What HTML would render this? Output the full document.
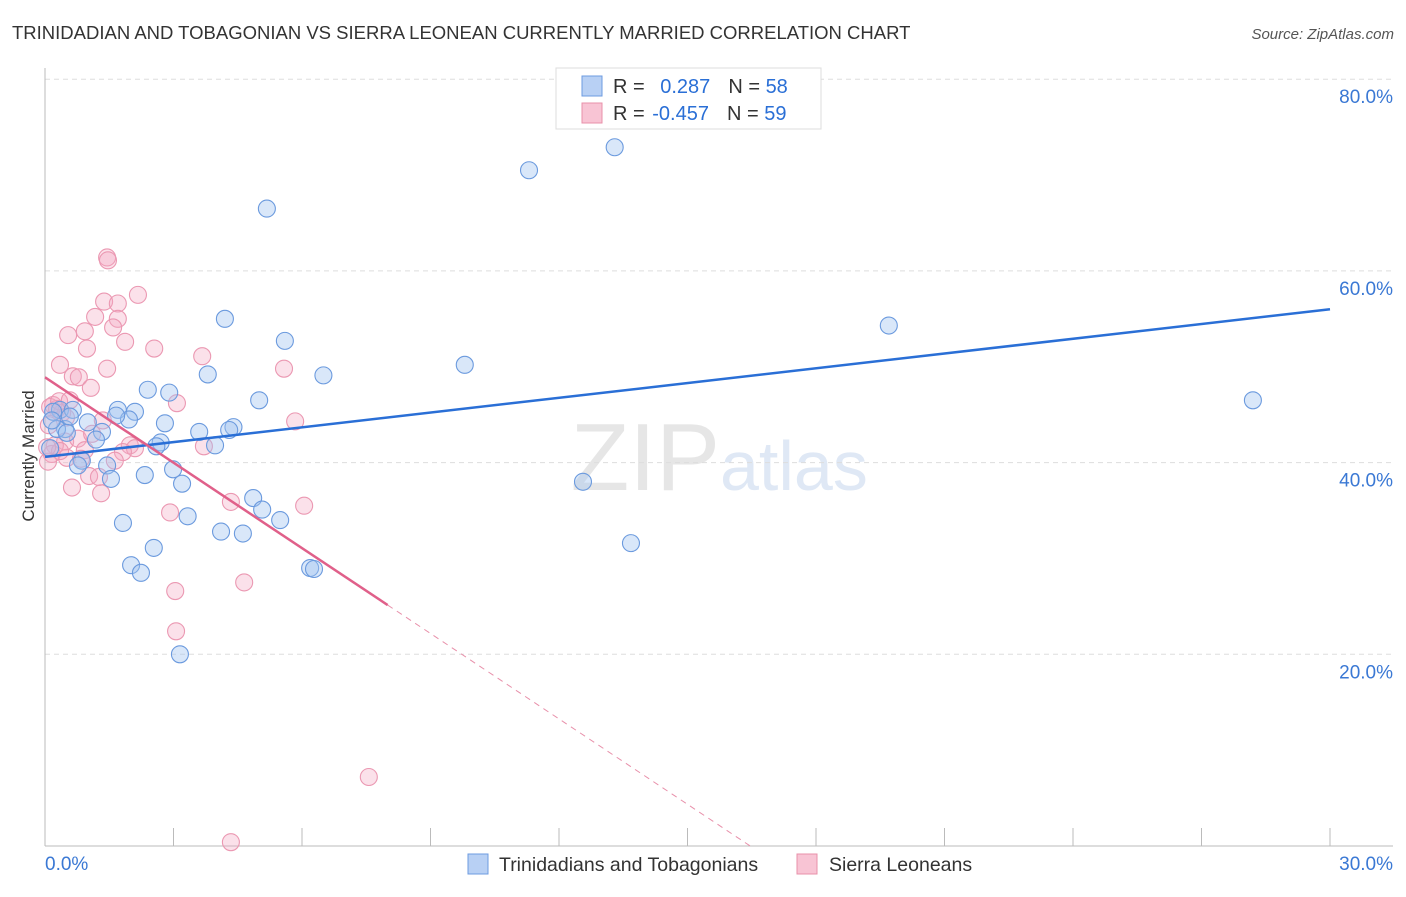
<!DOCTYPE html>
<html><head><meta charset="utf-8"><style>
body{margin:0;background:#fff;font-family:"Liberation Sans",sans-serif}
svg text{font-family:"Liberation Sans",sans-serif}
</style></head><body>
<svg width="1406" height="892" id="c">
<text x="12" y="39" font-size="18.5" fill="#333">TRINIDADIAN AND TOBAGONIAN VS SIERRA LEONEAN CURRENTLY MARRIED CORRELATION CHART</text>
<text x="1394" y="39" font-size="15" fill="#555" text-anchor="end" font-style="italic">Source: ZipAtlas.com</text>
<text x="34" y="456" font-size="17" fill="#333" text-anchor="middle" transform="rotate(-90 34 456)">Currently Married</text>
<text x="720" y="490" font-size="96" fill="#e6e6e6" text-anchor="end" font-family="Liberation Serif">ZIP</text>
<text x="720" y="490" font-size="70" fill="#dfe8f5">atlas</text>
<g id="grid"></g><g id="axes"></g><g id="pts"></g><g id="lines"></g>
<g>
<rect x="556" y="68" width="265" height="61" fill="#fff" stroke="#ddd"/>
<rect x="582" y="76" width="20" height="20" fill="#b8d0f4" stroke="#6d9be0"/>
<rect x="582" y="103" width="20" height="20" fill="#f8c4d4" stroke="#e890aa"/>
<text x="613" y="93" font-size="20" fill="#333">R = <tspan fill="#2a6fd6" dx="10">0.287</tspan><tspan fill="#333" dx="18">N = </tspan><tspan fill="#2a6fd6">58</tspan></text>
<text x="613" y="120" font-size="20" fill="#333">R = <tspan fill="#2a6fd6" dx="2">-0.457</tspan><tspan fill="#333" dx="18">N = </tspan><tspan fill="#2a6fd6">59</tspan></text>
</g>
<g>
<rect x="468" y="854" width="20" height="20" fill="#b8d0f4" stroke="#6d9be0"/>
<text x="499" y="871" font-size="19.5" fill="#333">Trinidadians and Tobagonians</text>
<rect x="797" y="854" width="20" height="20" fill="#f8c4d4" stroke="#e890aa"/>
<text x="829" y="871" font-size="19.5" fill="#333">Sierra Leoneans</text>
</g>
</svg>
<script>
const xTicks=[0,30];
const yTicks=[20,40,60,80];
const blueX=[5.18,11.3,13.3,4.2,5.6,9.8,19.7,28.2,2.4,2.9,3.8,6.5,5.0,1.7,2.1,4.4,1.96,2.8,4.3,3.6,3.97,2.7,2.6,1.33,1.19,1.66,0.86,0.77,1.45,1.54,0.47,0.28,0.35,0.65,1.0,0.19,0.16,2.33,2.99,3.2,4.86,5.07,5.49,3.33,1.82,4.11,4.62,2.54,2.01,2.24,6.19,6.28,3.15,12.56,13.68,0.12,0.58,0.51];
const blueY=[66.5,70.5,72.9,55.0,52.7,50.2,54.3,46.5,47.6,47.3,49.2,49.1,46.5,45.5,45.3,43.7,44.5,44.1,43.4,43.2,41.8,42.1,41.7,43.2,42.4,44.9,40.2,39.7,39.7,38.3,43.5,43.5,45.5,45.5,44.2,45.3,44.4,38.7,39.3,37.8,36.3,35.1,34.0,34.4,33.7,32.8,32.6,31.1,29.3,28.5,29.0,28.9,20.0,38.0,31.6,41.5,44.8,43.1];
const pinkX=[1.45,1.47,2.17,1.38,1.7,1.17,1.7,1.59,0.54,0.93,1.87,2.55,0.35,3.67,0.98,5.58,0.65,0.79,1.45,1.07,3.08,5.84,1.35,1.98,2.1,3.71,0.19,0.28,0.4,0.49,0.09,0.47,0.77,0.23,0.16,0.07,0.51,1.1,0.93,1.03,1.26,0.63,1.31,1.82,4.34,6.05,2.92,4.65,3.04,3.06,7.56,4.34,0.12,0.33,0.58,0.35,0.05,1.63,0.84];
const pinkY=[61.4,61.1,57.5,56.8,56.6,55.2,55.0,54.1,53.3,53.7,52.6,51.9,50.2,51.1,51.9,49.8,49.0,48.9,49.8,47.8,46.2,44.3,44.4,41.8,41.5,41.7,46.0,45.6,45.2,44.7,43.9,42.2,42.5,41.8,40.9,40.1,40.5,43.0,41.3,38.6,38.5,37.4,36.8,41.1,35.9,35.5,34.8,27.5,26.6,22.4,7.2,0.4,45.8,46.4,46.5,41.2,41.6,40.2,40.4];
const blueFit=[40.6,56.0];
const pinkFit=[48.9,-2.97];
const X=v=>45+v/30*1285, Y=v=>846-v/20*191.7;
const NS='http://www.w3.org/2000/svg';
function mk(t,a,p){const e=document.createElementNS(NS,t);for(const k in a)e.setAttribute(k,a[k]);document.getElementById(p).appendChild(e);return e;}
yTicks.forEach(v=>{
 const l=mk('line',{x1:45,x2:1393,y1:Y(v),y2:Y(v),stroke:'#ddd','stroke-dasharray':'5,4'},'grid');
 
 
 const t=mk('text',{x:1393,y:Y(v)+24,'font-size':19,fill:'#3a78d4','text-anchor':'end'},'grid');t.textContent=v.toFixed(1)+'%';
 
 
});
mk('line',{x1:45,x2:45,y1:68,y2:846,stroke:'#bbb'},'axes');
mk('line',{x1:45,x2:1393,y1:846,y2:846,stroke:'#bbb'},'axes');
for(let i=0;i<=10;i++){mk('line',{x1:X(i*3),x2:X(i*3),y1:828,y2:846,stroke:'#bbb'},'axes');}
xTicks.forEach((v,i)=>{const t=mk('text',{x:i?1393:45,y:870,'font-size':19,fill:'#3a78d4','text-anchor':i?'end':'start'},'axes');t.textContent=v.toFixed(1)+'%';
 
 });
pinkX.forEach((x,i)=>{const c=mk('circle',{cx:X(x),cy:Y(pinkY[i]),r:8.5,fill:'rgba(244,170,194,0.35)',stroke:'#eb98b2','stroke-width':1.1},'pts');
 
 });
blueX.forEach((x,i)=>{const c=mk('circle',{cx:X(x),cy:Y(blueY[i]),r:8.5,fill:'rgba(160,194,240,0.4)',stroke:'#6b9ade','stroke-width':1.1},'pts');
 
 });
const bl=mk('line',{x1:X(0),y1:Y(blueFit[0]),x2:X(30),y2:Y(blueFit[1]),stroke:'#2a6fd6','stroke-width':2.5},'lines');


const pe=8, pz=-pinkFit[0]/pinkFit[1];
const pl=mk('line',{x1:X(0),y1:Y(pinkFit[0]),x2:X(pe),y2:Y(pinkFit[0]+pinkFit[1]*pe),stroke:'#e0608a','stroke-width':2.5},'lines');


const pd=mk('line',{x1:X(pe),y1:Y(pinkFit[0]+pinkFit[1]*pe),x2:X(pz),y2:Y(0),stroke:'#e890aa','stroke-width':1,'stroke-dasharray':'6,5'},'lines');


</script>
</body></html>
